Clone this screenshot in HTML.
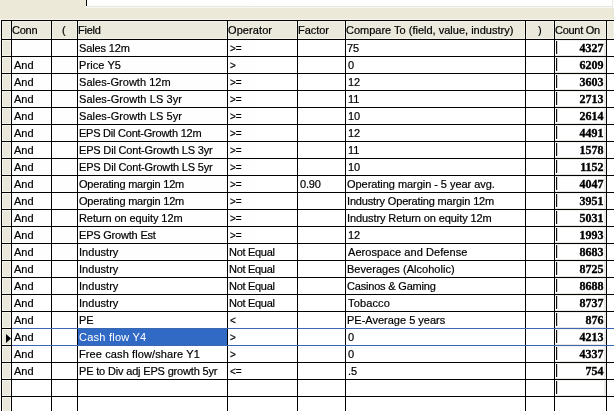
<!DOCTYPE html>
<html><head><meta charset="utf-8"><title>Screen criteria grid</title>
<style>
html,body{margin:0;padding:0}
body{width:614px;height:411px;overflow:hidden;background:#ece9d8;position:relative;font-family:"Liberation Sans",sans-serif;font-size:11px;color:#000}
div{position:absolute;box-sizing:border-box}
.t{white-space:nowrap;line-height:17px;height:17px;-webkit-text-stroke:0.2px}
.h{white-space:nowrap;line-height:17px;height:17px;-webkit-text-stroke:0.2px}
.n{font-family:"Liberation Serif",serif;font-weight:bold;font-size:12px;text-align:right;white-space:nowrap;line-height:14px;-webkit-text-stroke:0.35px}
.vl{width:1px;background:#000;top:20px;height:391px}
.hl{height:1px;background:#000;left:1px;width:613px}
.bx{left:555px;width:51px;height:16px;background:#fff;border-top:1px solid #f2f1ec;border-right:2px solid #ebeae5;border-bottom:1px solid #e8e7e2}
.bx i{position:absolute;left:1px;top:0;width:1px;height:13px;background:#111}
.bx b{position:absolute;left:2px;top:0;width:1px;height:13px;background:#d4d4d4}
.hc{background:#ebe9dc;border:1px solid #f3f2e9;top:21px;height:18px}
.rs{left:2px;width:9px;height:16px;background:#e9e8db;border:1px solid #f6f5ee}
</style></head><body><div id="g" style="left:0;top:0;width:614px;height:411px;will-change:transform;opacity:0.999">

<div style="left:86px;top:0;width:528px;height:8px;background:#fff"></div>
<div style="left:86px;top:0;width:1px;height:6px;background:#000"></div>
<div style="left:87px;top:6px;width:526px;height:1px;background:#e6e5e0"></div>
<div style="left:612px;top:0;width:1px;height:6px;background:#e6e5e0"></div>
<div style="left:86px;top:7px;width:528px;height:1px;background:#f8f7f2"></div>
<div style="left:0;top:19px;width:614px;height:1px;background:#f7f6ef"></div>
<div style="left:0;top:19px;width:1px;height:392px;background:#f9f8f2"></div>
<div style="left:12px;top:40px;width:602px;height:371px;background:#fff"></div>
<div class="hc" style="left:2px;width:9px"></div>
<div class="hc" style="left:12px;width:39px"></div>
<div class="hc" style="left:52px;width:25px"></div>
<div class="hc" style="left:78px;width:149px"></div>
<div class="hc" style="left:228px;width:69px"></div>
<div class="hc" style="left:298px;width:47px"></div>
<div class="hc" style="left:346px;width:179px"></div>
<div class="hc" style="left:526px;width:28px"></div>
<div class="hc" style="left:555px;width:51px"></div>
<div class="hc" style="left:607px;width:7px"></div>
<div class="rs" style="top:40px"></div>
<div class="rs" style="top:57px"></div>
<div class="rs" style="top:74px"></div>
<div class="rs" style="top:91px"></div>
<div class="rs" style="top:108px"></div>
<div class="rs" style="top:125px"></div>
<div class="rs" style="top:142px"></div>
<div class="rs" style="top:159px"></div>
<div class="rs" style="top:176px"></div>
<div class="rs" style="top:193px"></div>
<div class="rs" style="top:210px"></div>
<div class="rs" style="top:227px"></div>
<div class="rs" style="top:244px"></div>
<div class="rs" style="top:261px"></div>
<div class="rs" style="top:278px"></div>
<div class="rs" style="top:295px"></div>
<div class="rs" style="top:312px"></div>
<div class="rs" style="top:329px"></div>
<div class="rs" style="top:346px"></div>
<div class="rs" style="top:363px"></div>
<div class="rs" style="top:380px"></div>
<div class="rs" style="top:397px"></div>
<div class="bx" style="top:40px"><i></i><b></b></div>
<div class="bx" style="top:57px"><i></i><b></b></div>
<div class="bx" style="top:74px"><i></i><b></b></div>
<div class="bx" style="top:91px"><i></i><b></b></div>
<div class="bx" style="top:108px"><i></i><b></b></div>
<div class="bx" style="top:125px"><i></i><b></b></div>
<div class="bx" style="top:142px"><i></i><b></b></div>
<div class="bx" style="top:159px"><i></i><b></b></div>
<div class="bx" style="top:176px"><i></i><b></b></div>
<div class="bx" style="top:193px"><i></i><b></b></div>
<div class="bx" style="top:210px"><i></i><b></b></div>
<div class="bx" style="top:227px"><i></i><b></b></div>
<div class="bx" style="top:244px"><i></i><b></b></div>
<div class="bx" style="top:261px"><i></i><b></b></div>
<div class="bx" style="top:278px"><i></i><b></b></div>
<div class="bx" style="top:295px"><i></i><b></b></div>
<div class="bx" style="top:312px"><i></i><b></b></div>
<div class="bx" style="top:329px"><i></i><b></b></div>
<div class="bx" style="top:346px"><i></i><b></b></div>
<div class="bx" style="top:363px"><i></i><b></b></div>
<div class="bx" style="top:380px"><i></i><b></b></div>
<div style="left:78px;top:328px;width:149px;height:18px;background:#316ac5"></div>
<div class="vl" style="left:1px"></div>
<div class="vl" style="left:11px"></div>
<div class="vl" style="left:51px"></div>
<div class="vl" style="left:77px"></div>
<div class="vl" style="left:227px"></div>
<div class="vl" style="left:297px"></div>
<div class="vl" style="left:345px"></div>
<div class="vl" style="left:525px"></div>
<div class="vl" style="left:554px"></div>
<div class="vl" style="left:606px"></div>
<div class="hl" style="top:20px"></div>
<div class="hl" style="top:39px"></div>
<div class="hl" style="top:56px"></div>
<div class="hl" style="top:73px"></div>
<div class="hl" style="top:90px"></div>
<div class="hl" style="top:107px"></div>
<div class="hl" style="top:124px"></div>
<div class="hl" style="top:141px"></div>
<div class="hl" style="top:158px"></div>
<div class="hl" style="top:175px"></div>
<div class="hl" style="top:192px"></div>
<div class="hl" style="top:209px"></div>
<div class="hl" style="top:226px"></div>
<div class="hl" style="top:243px"></div>
<div class="hl" style="top:260px"></div>
<div class="hl" style="top:277px"></div>
<div class="hl" style="top:294px"></div>
<div class="hl" style="top:311px"></div>
<div class="hl" style="top:328px"></div>
<div class="hl" style="top:345px"></div>
<div class="hl" style="top:362px"></div>
<div class="hl" style="top:379px"></div>
<div class="hl" style="top:396px"></div>
<div style="left:12px;top:328px;width:602px;height:1px;background:#3a66b2"></div>
<div style="left:12px;top:345px;width:602px;height:1px;background:#3a66b2"></div>
<svg style="position:absolute;left:6px;top:334px" width="5" height="9" viewBox="0 0 5 9"><polygon points="0,0 5,4.5 0,9" fill="#000"/></svg>
<div class="h" style="left:12px;top:22px;letter-spacing:-0.267px">Conn</div>
<div class="h" style="left:62px;top:22px">(</div>
<div class="h" style="left:78px;top:22px;letter-spacing:-0.25px">Field</div>
<div class="h" style="left:228px;top:22px;letter-spacing:0.086px">Operator</div>
<div class="h" style="left:298px;top:22px;letter-spacing:-0.04px">Factor</div>
<div class="h" style="left:346px;top:22px">Compare To (field, value, industry)</div>
<div class="h" style="left:538px;top:22px">)</div>
<div class="h" style="left:555px;top:22px;letter-spacing:-0.286px">Count On</div>
<div class="t" style="left:79px;top:40px;letter-spacing:-0.125px">Sales 12m</div>
<div class="t" style="left:230px;top:40px;font-size:10px">>=</div>
<div class="t" style="left:347px;top:40px">75</div>
<div class="n" style="left:560px;width:43.5px;top:41px">4327</div>
<div class="t" style="left:14px;top:57px">And</div>
<div class="t" style="left:79px;top:57px;letter-spacing:0.086px">Price Y5</div>
<div class="t" style="left:230px;top:57px;font-size:10px">></div>
<div class="t" style="left:348px;top:57px">0</div>
<div class="n" style="left:560px;width:43.5px;top:58px">6209</div>
<div class="t" style="left:14px;top:74px">And</div>
<div class="t" style="left:79px;top:74px;letter-spacing:0.04px">Sales-Growth 12m</div>
<div class="t" style="left:230px;top:74px;font-size:10px">>=</div>
<div class="t" style="left:348px;top:74px">12</div>
<div class="n" style="left:560px;width:43.5px;top:75px">3603</div>
<div class="t" style="left:14px;top:91px">And</div>
<div class="t" style="left:79px;top:91px;letter-spacing:0.078px">Sales-Growth LS 3yr</div>
<div class="t" style="left:230px;top:91px;font-size:10px">>=</div>
<div class="t" style="left:348px;top:91px">11</div>
<div class="n" style="left:560px;width:43.5px;top:92px">2713</div>
<div class="t" style="left:14px;top:108px">And</div>
<div class="t" style="left:79px;top:108px;letter-spacing:0.078px">Sales-Growth LS 5yr</div>
<div class="t" style="left:230px;top:108px;font-size:10px">>=</div>
<div class="t" style="left:348px;top:108px">10</div>
<div class="n" style="left:560px;width:43.5px;top:109px">2614</div>
<div class="t" style="left:14px;top:125px">And</div>
<div class="t" style="left:79px;top:125px;letter-spacing:-0.236px">EPS Dil Cont-Growth 12m</div>
<div class="t" style="left:230px;top:125px;font-size:10px">>=</div>
<div class="t" style="left:348px;top:125px">12</div>
<div class="n" style="left:560px;width:43.5px;top:126px">4491</div>
<div class="t" style="left:14px;top:142px">And</div>
<div class="t" style="left:79px;top:142px;letter-spacing:-0.176px">EPS Dil Cont-Growth LS 3yr</div>
<div class="t" style="left:230px;top:142px;font-size:10px">>=</div>
<div class="t" style="left:348px;top:142px">11</div>
<div class="n" style="left:560px;width:43.5px;top:143px">1578</div>
<div class="t" style="left:14px;top:159px">And</div>
<div class="t" style="left:79px;top:159px;letter-spacing:-0.176px">EPS Dil Cont-Growth LS 5yr</div>
<div class="t" style="left:230px;top:159px;font-size:10px">>=</div>
<div class="t" style="left:348px;top:159px">10</div>
<div class="n" style="left:560px;width:43.5px;top:160px">1152</div>
<div class="t" style="left:14px;top:176px">And</div>
<div class="t" style="left:79px;top:176px;letter-spacing:-0.221px">Operating margin 12m</div>
<div class="t" style="left:230px;top:176px;font-size:10px">>=</div>
<div class="t" style="left:300px;top:176px;letter-spacing:-0.2px">0.90</div>
<div class="t" style="left:347px;top:176px;letter-spacing:-0.048px">Operating margin - 5 year avg.</div>
<div class="n" style="left:560px;width:43.5px;top:177px">4047</div>
<div class="t" style="left:14px;top:193px">And</div>
<div class="t" style="left:79px;top:193px;letter-spacing:-0.221px">Operating margin 12m</div>
<div class="t" style="left:230px;top:193px;font-size:10px">>=</div>
<div class="t" style="left:347px;top:193px;letter-spacing:-0.157px">Industry Operating margin 12m</div>
<div class="n" style="left:560px;width:43.5px;top:194px">3951</div>
<div class="t" style="left:14px;top:210px">And</div>
<div class="t" style="left:79px;top:210px;letter-spacing:-0.084px">Return on equity 12m</div>
<div class="t" style="left:230px;top:210px;font-size:10px">>=</div>
<div class="t" style="left:347px;top:210px;letter-spacing:-0.093px">Industry Return on equity 12m</div>
<div class="n" style="left:560px;width:43.5px;top:211px">5031</div>
<div class="t" style="left:14px;top:227px">And</div>
<div class="t" style="left:79px;top:227px;letter-spacing:-0.2px">EPS Growth Est</div>
<div class="t" style="left:230px;top:227px;font-size:10px">>=</div>
<div class="t" style="left:348px;top:227px">12</div>
<div class="n" style="left:560px;width:43.5px;top:228px">1993</div>
<div class="t" style="left:14px;top:244px">And</div>
<div class="t" style="left:79px;top:244px;letter-spacing:0.029px">Industry</div>
<div class="t" style="left:229px;top:244px;letter-spacing:-0.3px">Not Equal</div>
<div class="t" style="left:348px;top:244px;letter-spacing:0.07px">Aerospace and Defense</div>
<div class="n" style="left:560px;width:43.5px;top:245px">8683</div>
<div class="t" style="left:14px;top:261px">And</div>
<div class="t" style="left:79px;top:261px;letter-spacing:0.029px">Industry</div>
<div class="t" style="left:229px;top:261px;letter-spacing:-0.3px">Not Equal</div>
<div class="t" style="left:347px;top:261px;letter-spacing:0.03px">Beverages (Alcoholic)</div>
<div class="n" style="left:560px;width:43.5px;top:262px">8725</div>
<div class="t" style="left:14px;top:278px">And</div>
<div class="t" style="left:79px;top:278px;letter-spacing:0.029px">Industry</div>
<div class="t" style="left:229px;top:278px;letter-spacing:-0.3px">Not Equal</div>
<div class="t" style="left:347px;top:278px;letter-spacing:-0.187px">Casinos &amp; Gaming</div>
<div class="n" style="left:560px;width:43.5px;top:279px">8688</div>
<div class="t" style="left:14px;top:295px">And</div>
<div class="t" style="left:79px;top:295px;letter-spacing:0.029px">Industry</div>
<div class="t" style="left:229px;top:295px;letter-spacing:-0.3px">Not Equal</div>
<div class="t" style="left:348px;top:295px;letter-spacing:0.133px">Tobacco</div>
<div class="n" style="left:560px;width:43.5px;top:296px">8737</div>
<div class="t" style="left:14px;top:312px">And</div>
<div class="t" style="left:79px;top:312px">PE</div>
<div class="t" style="left:230px;top:312px;font-size:10px">&lt;</div>
<div class="t" style="left:347px;top:312px">PE-Average 5 years</div>
<div class="n" style="left:560px;width:43.5px;top:313px">876</div>
<div class="t" style="left:14px;top:329px">And</div>
<div class="t" style="left:79px;top:329px;letter-spacing:0.236px;color:#fff;-webkit-text-stroke:0">Cash flow Y4</div>
<div class="t" style="left:230px;top:329px;font-size:10px">></div>
<div class="t" style="left:348px;top:329px">0</div>
<div class="n" style="left:560px;width:43.5px;top:330px">4213</div>
<div class="t" style="left:14px;top:346px">And</div>
<div class="t" style="left:79px;top:346px;letter-spacing:0.109px">Free cash flow/share Y1</div>
<div class="t" style="left:230px;top:346px;font-size:10px">></div>
<div class="t" style="left:348px;top:346px">0</div>
<div class="n" style="left:560px;width:43.5px;top:347px">4337</div>
<div class="t" style="left:14px;top:363px">And</div>
<div class="t" style="left:79px;top:363px;letter-spacing:-0.17px">PE to Div adj EPS growth 5yr</div>
<div class="t" style="left:230px;top:363px;font-size:10px">&lt;=</div>
<div class="t" style="left:348px;top:363px">.5</div>
<div class="n" style="left:560px;width:43.5px;top:364px">754</div>
</div></body></html>
